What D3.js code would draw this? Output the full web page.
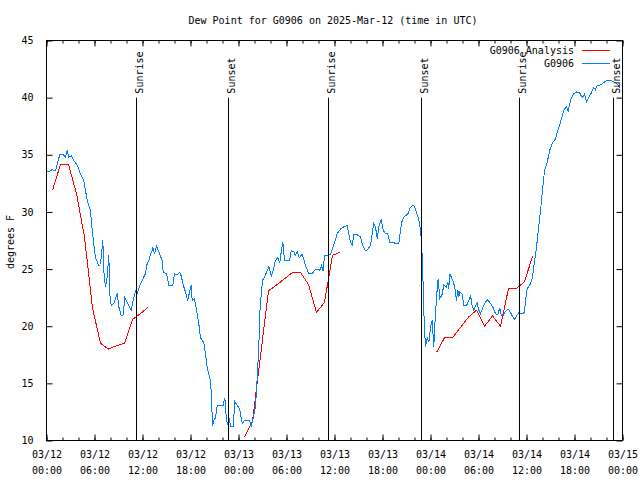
<!DOCTYPE html>
<html><head><meta charset="utf-8">
<script src="https://cdn.jsdelivr.net/npm/d3@7"></script>
<style>
body{margin:0;background:#fff;}
text{font-family:"DejaVu Sans Mono","Liberation Mono",monospace;font-size:10px;fill:#000;}
</style></head>
<body><svg id="c" width="640" height="480"></svg>
<script>
// ---- data (hours after 2025-03-12 00:00 UTC) ----
const startUTC = Date.UTC(2025, 2, 12, 0, 0);
const obsHours = [0.12,0.29,0.71,1.12,1.34,1.66,2.09,2.37,2.59,2.79,3.09,3.41,3.84,4.25,4.66,5.09,5.5,5.71,5.91,6.12,6.54,6.75,7.04,7.16,7.37,7.59,7.79,7.91,8.09,8.41,8.84,9.04,9.34,9.59,9.79,10.16,10.59,10.91,11.12,11.34,11.75,12.16,12.37,12.59,12.79,13.0,13.21,13.29,13.5,13.75,14.16,14.46,14.59,15.0,15.29,15.79,16.0,16.34,16.66,16.84,17.09,17.37,17.66,17.91,18.09,18.21,18.5,18.75,19.04,19.25,19.46,19.66,19.87,20.09,20.29,20.5,20.62,20.75,20.91,21.12,21.34,21.75,22.09,22.29,22.5,22.66,22.84,23.0,23.34,23.54,23.84,24.16,24.46,24.75,25.09,25.41,25.59,25.84,26.12,26.34,26.54,26.66,26.84,27.0,27.25,27.5,27.79,28.09,28.34,28.62,28.91,29.16,29.34,29.54,29.75,30.09,30.41,30.59,30.91,31.12,31.34,31.59,31.96,32.16,32.37,32.79,33.21,33.5,33.84,34.16,34.37,34.59,34.75,35.16,35.5,35.91,36.34,36.75,37.16,37.59,37.79,38.0,38.21,38.41,38.84,39.25,39.46,39.87,40.16,40.5,40.71,40.91,41.12,41.34,41.54,41.84,42.09,42.37,42.66,42.91,43.41,43.84,44.04,44.25,44.46,44.75,45.16,45.41,45.84,46.04,46.34,46.54,46.75,46.84,46.96,47.09,47.16,47.29,47.37,47.59,47.79,48.0,48.21,48.41,48.62,48.84,48.96,49.16,49.46,49.66,50.0,50.16,50.29,50.41,50.59,50.84,51.04,51.25,51.41,51.54,51.66,51.96,52.16,52.5,52.79,53.0,53.21,53.41,53.62,53.84,54.04,54.25,54.59,54.87,55.16,55.5,55.84,56.12,56.41,56.66,56.84,57.09,57.37,57.71,58.0,58.21,58.5,58.75,59.04,59.46,59.75,59.87,60.09,60.41,60.71,60.91,61.25,61.54,61.75,61.96,62.09,62.25,62.59,62.91,63.21,63.62,63.91,64.25,64.66,65.0,65.21,65.5,65.84,66.25,66.66,66.96,67.25,67.5,67.79,68.09,68.41,68.62,68.84,69.16,69.46,70.0,70.5,70.91,71.34,71.75];
const obsValues = [33.5,33.5,33.7,33.6,34.2,35.0,35.0,34.8,35.4,34.8,34.9,34.5,34.1,33.3,32.75,31.0,30.1,28.4,27.2,26.0,25.3,25.4,27.5,24.9,23.4,24.3,26.2,22.8,21.8,22.0,22.9,21.7,20.9,21.0,22.5,22.0,21.4,22.5,23.1,22.9,23.7,24.3,24.6,25.5,25.75,26.3,26.6,26.9,26.3,27.0,26.3,25.75,24.7,24.6,23.6,23.6,24.6,24.5,24.7,24.4,23.6,23.0,22.25,23.1,23.6,22.25,22.4,21.4,20.2,19.0,18.75,18.6,17.6,16.4,15.8,15.25,13.9,11.3,11.75,12.0,13.1,13.1,13.1,13.75,11.75,11.4,12.0,11.2,11.2,13.4,13.1,12.7,11.5,11.75,11.8,11.7,11.2,12.0,12.9,15.5,18.2,21.1,22.8,24.0,24.3,24.7,25.2,24.4,24.9,25.75,26.0,25.5,26.5,27.4,25.75,25.7,25.8,26.6,26.5,26.2,26.5,26.0,26.3,25.9,25.3,24.6,24.6,24.9,25.0,24.9,25.3,24.8,26.2,26.2,26.3,27.1,28.1,28.5,28.7,28.8,28.1,27.35,27.1,28.0,28.0,27.8,27.2,26.6,26.7,27.1,28.1,29.0,28.7,27.65,28.7,29.3,28.4,28.1,28.1,27.35,27.3,27.2,27.2,28.4,29.25,29.6,29.8,30.3,30.6,30.4,29.8,29.25,28.5,27.65,26.2,23.4,21.4,19.3,18.2,19.0,18.6,19.9,20.5,18.2,21.1,23.3,24.15,22.4,22.8,23.6,23.4,23.9,23.3,24.6,24.3,23.9,23.4,22.25,23.2,22.6,23.0,22.8,21.8,21.8,22.25,22.7,21.8,21.4,21.8,22.0,21.4,21.1,21.7,22.1,22.3,22.0,21.6,21.1,21.0,21.6,21.0,20.9,21.3,21.5,21.2,20.9,20.6,20.9,21.2,21.1,21.2,22.25,23.3,23.6,24.15,25.2,26.9,28.8,30.1,31.6,32.5,33.6,34.35,35.4,36.0,36.4,37.1,37.85,38.9,39.2,38.8,39.75,40.3,40.5,40.4,40.0,40.3,39.6,40.0,40.4,40.9,40.7,41.1,41.1,41.2,41.5,41.5,41.4,41.2,40.8];
const anaHours = [0.75,1.75,2.75,3.75,4.75,5.75,6.75,7.75,8.75,9.75,10.75,11.75,12.75,
                  24.75,25.75,26.75,27.75,28.75,29.75,30.75,31.75,32.75,33.75,34.75,35.75,36.75,
                  48.75,49.75,50.75,51.75,52.75,53.75,54.75,55.75,56.75,57.75,58.75,59.75,60.75];
const anaValues = [31.9,34.15,34.15,31.6,27.8,21.6,18.5,18.0,18.3,18.5,20.6,21.1,21.7,
                   10.3,11.7,17.4,23.1,23.6,24.15,24.7,24.7,23.65,21.2,22.1,26.2,26.5,
                   17.7,19.0,19.0,19.9,20.8,21.4,20.0,20.9,20.0,23.3,23.3,23.9,26.1];
const sunHours = [11.2,22.8,35.2,46.84,59.07,70.9];
const sunLabels = ["Sunrise","Sunset","Sunrise","Sunset","Sunrise","Sunset"];
const yTicks = [10,15,20,25,30,35,40,45];
const seriesNames = ["G0906 Analysis","G0906"];
const seriesColors = ["#ff0000","#0080ff"];
const titleText = "Dew Point for G0906 on 2025-Mar-12 (time in UTC)";
const yLabel = "degrees F";

// ---- drawing ----
const toDate = h => new Date(startUTC + h * 3600000);
const svg = d3.select("#c");
const L = 46.5, R = 622.5, T = 40.5, B = 440.5;
const x = d3.scaleUtc().domain([toDate(0), toDate(72)]).range([L, R]);
const y = d3.scaleLinear().domain([10, 45]).range([B, T]);

svg.append("text").attr("x", 333).attr("y", 24).attr("text-anchor", "middle").text(titleText);
svg.append("text").attr("transform", "translate(14,242) rotate(-90)").attr("text-anchor", "middle").text(yLabel);

const fmtD = d3.utcFormat("%m/%d"), fmtT = d3.utcFormat("%H:%M");
const major = d3.utcHour.every(6).range(toDate(0), toDate(72.01));
const minor = d3.utcHour.every(2).range(toDate(0), toDate(72.01));

// bottom axis (major ticks with two-line labels)
const xb = svg.append("g").attr("transform", `translate(0,${B})`)
  .call(d3.axisBottom(x).tickValues(major).tickSize(-6).tickFormat(""));
xb.select(".domain").remove();
xb.selectAll(".tick").each(function(d) {
  const t = d3.select(this).append("text").attr("fill", "#000").attr("text-anchor", "middle");
  t.append("tspan").attr("x", 0).attr("y", 17).text(fmtD(d));
  t.append("tspan").attr("x", 0).attr("y", 33).text(fmtT(d));
});
svg.append("g").attr("transform", `translate(0,${B})`)
  .call(d3.axisBottom(x).tickValues(minor).tickSize(-3).tickFormat("")).select(".domain").remove();
// top mirror
const xt = svg.append("g").attr("transform", `translate(0,${T})`)
  .call(d3.axisTop(x).tickValues(major).tickSize(-6).tickFormat(""));
xt.select(".domain").remove();
svg.append("g").attr("transform", `translate(0,${T})`)
  .call(d3.axisTop(x).tickValues(minor).tickSize(-3).tickFormat("")).select(".domain").remove();

// y axes
const yl = svg.append("g").attr("transform", `translate(${L},0)`)
  .call(d3.axisLeft(y).tickValues(yTicks).tickSize(-6).tickPadding(13).tickFormat(d3.format("d")));
yl.select(".domain").remove();
yl.selectAll("text").attr("font-family", null).attr("font-size", null);
const yr = svg.append("g").attr("transform", `translate(${R},0)`)
  .call(d3.axisRight(y).tickValues(yTicks).tickSize(-6).tickFormat(""));
yr.select(".domain").remove();
svg.selectAll(".tick line").attr("stroke", "#000");
xb.selectAll("text").attr("font-family", null).attr("font-size", null);

// frame
svg.append("rect").attr("x", L).attr("y", T).attr("width", R - L).attr("height", B - T)
  .attr("fill", "none").attr("stroke", "#000");

// analysis series (split at gaps)
const segs = [];
anaHours.forEach((h, i) => {
  if (i === 0 || h - anaHours[i - 1] > 1.5) segs.push([]);
  segs[segs.length - 1].push([toDate(h), anaValues[i]]);
});
const line = d3.line().x(d => x(d[0])).y(d => y(d[1]));
segs.forEach(s => svg.append("path").attr("d", line(s)).attr("fill", "none")
  .attr("stroke", seriesColors[0]).attr("stroke-width", 1).attr("shape-rendering", "crispEdges"));
// observed series
const obs = obsHours.map((h, i) => [toDate(h), obsValues[i]]);
svg.append("path").attr("d", line(obs)).attr("fill", "none")
  .attr("stroke", seriesColors[1]).attr("stroke-width", 1).attr("shape-rendering", "crispEdges");

// sunrise / sunset markers
sunHours.forEach((h, i) => {
  const xx = Math.floor(x(toDate(h))) + 0.5;
  svg.append("line").attr("x1", xx).attr("x2", xx).attr("y1", y(40)).attr("y2", B)
    .attr("stroke", "#000").attr("stroke-width", 1);
  svg.append("text").attr("transform", `translate(${xx + 6},${y(40) - 4}) rotate(-90)`)
    .attr("text-anchor", "start").text(sunLabels[i]);
});

// legend
seriesNames.forEach((n, i) => {
  const ly = 50 + i * 13;
  svg.append("text").attr("x", 574).attr("y", ly + 4).attr("text-anchor", "end").text(n);
  svg.append("line").attr("x1", 582).attr("x2", 610).attr("y1", ly + 0.5).attr("y2", ly + 0.5)
    .attr("stroke", seriesColors[i]).attr("stroke-width", 1);
});
</script></body></html>
